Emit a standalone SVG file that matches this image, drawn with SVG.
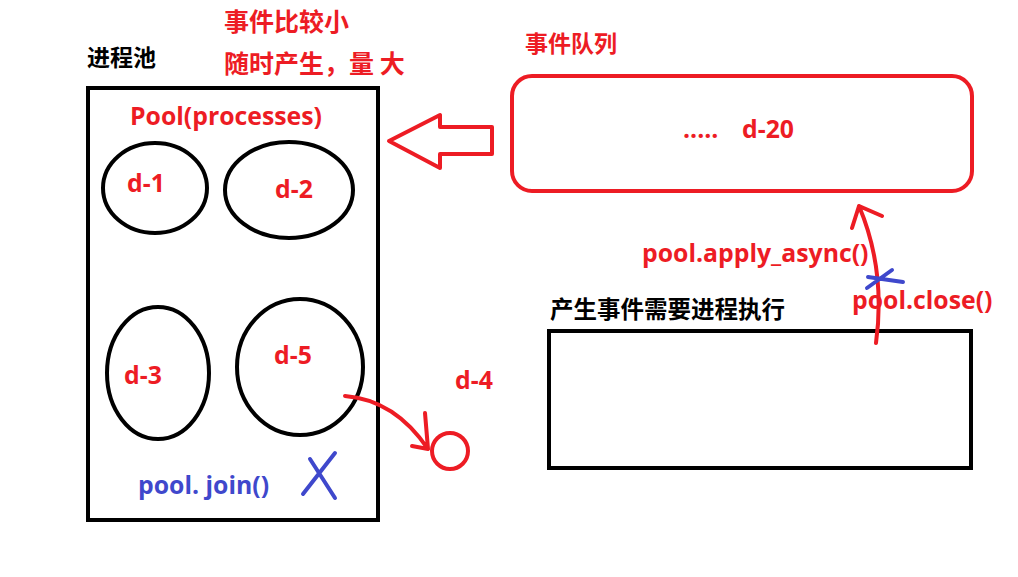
<svg xmlns="http://www.w3.org/2000/svg" width="1018" height="577" viewBox="0 0 1018 577">
<style>
.t{font-family:"Open Sans","Noto Sans CJK SC",sans-serif;font-weight:bold;font-size:24.8px}
.cj{font-family:"Noto Sans CJK SC",sans-serif;font-weight:bold}
.red{fill:#ED1C24}
.blk{fill:#000}
.blu{fill:#3F48CC}
.bk{fill:none;stroke:#000;stroke-width:4}
.rs{fill:none;stroke:#ED1C24;stroke-width:4;stroke-linecap:round;stroke-linejoin:round}
.bs{fill:none;stroke:#3F48CC;stroke-width:4;stroke-linecap:round}
</style>
<rect width="1018" height="577" fill="#fff"/>
<text class="cj red" x="224" y="31" font-size="25">事件比较小</text>
<text class="cj red" x="224" y="73" font-size="25">随时产生，量 大</text>
<g id="pool">
<text class="cj blk" x="87" y="66" font-size="23">进程池</text>
<rect class="bk" x="88" y="88" width="290" height="432"/>
<text class="t red" x="226" y="125" text-anchor="middle">Pool(processes)</text>
<text class="t blu" x="138" y="494">pool. join()</text>
<path class="bs" d="M335 453 L303 494 M310 459 L335 498"/>
</g>
<g id="d1"><ellipse class="bk" cx="155" cy="188" rx="52" ry="45"/><text class="t red" x="127" y="192">d-1</text></g>
<g id="d2"><ellipse class="bk" cx="289" cy="190" rx="64" ry="48"/><text class="t red" x="275" y="198">d-2</text></g>
<g id="d3"><ellipse class="bk" cx="158" cy="373" rx="51" ry="66"/><text class="t red" x="124" y="384">d-3</text></g>
<g id="d5"><ellipse class="bk" cx="300" cy="367" rx="63" ry="68"/><text class="t red" x="274" y="364">d-5</text></g>
<g id="d4"><circle class="rs" cx="450" cy="451" r="18"/><text class="t red" x="455" y="389">d-4</text></g>
<g id="queue">
<text class="cj red" x="525" y="52" font-size="23">事件队列</text>
<rect class="rs" x="512" y="76" width="460" height="115" rx="20"/>
<text class="t red" x="683" y="138">.....</text>
<text class="t red" x="742" y="138">d-20</text>
</g>
<g id="producer">
<text class="cj blk" x="550" y="318" font-size="23.5">产生事件需要进程执行</text>
<rect class="bk" x="549" y="331" width="422" height="137"/>
</g>
<g id="connectors">
<path class="rs" d="M389 141 L440 115 L440 127 L492 127 L492 154 L440 154 L440 168 Z"/>
<path class="rs" stroke-width="3" d="M345 396 Q395 400 428 449 M425 413 L428 449 L412 446"/>
<path class="rs" d="M876 343 Q886 270 859 206 M852 228 L859 206 L882 216"/>
<path class="bs" stroke-width="3" d="M867 288 L892 270 M868 277 L903 282"/>
<text class="t red" x="642" y="262">pool.apply_async()</text>
<text class="t red" x="852" y="309">pool.close()</text>
</g>
</svg>
